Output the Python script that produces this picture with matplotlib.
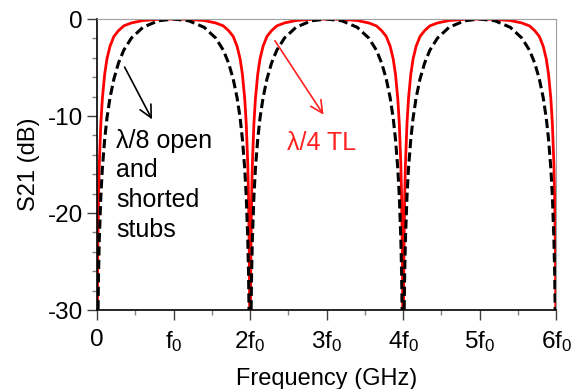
import matplotlib.pyplot as plt
from matplotlib.ticker import MultipleLocator

plt.rcParams['font.family'] = ['Liberation Sans', 'DejaVu Sans']
plt.rcParams['axes.unicode_minus'] = False

# frequency in units of f0
freq = [
    0.0, 0.005, 0.01, 0.02, 0.03, 0.05, 0.07, 0.1, 0.13, 0.17, 0.22, 0.28, 0.35, 0.45, 0.6, 0.8,
    1.0, 1.2, 1.4, 1.55, 1.65, 1.72, 1.78, 1.83, 1.87, 1.9, 1.93, 1.95, 1.97, 1.98, 1.99, 1.995,
    2.0, 2.005, 2.01, 2.02, 2.03, 2.05, 2.07, 2.1, 2.13, 2.17, 2.22, 2.28, 2.35, 2.45, 2.6, 2.8,
    3.0, 3.2, 3.4, 3.55, 3.65, 3.72, 3.78, 3.83, 3.87, 3.9, 3.93, 3.95, 3.97, 3.98, 3.99, 3.995,
    4.0, 4.005, 4.01, 4.02, 4.03, 4.05, 4.07, 4.1, 4.13, 4.17, 4.22, 4.28, 4.35, 4.45, 4.6, 4.8,
    5.0, 5.2, 5.4, 5.55, 5.65, 5.72, 5.78, 5.83, 5.87, 5.9, 5.93, 5.95, 5.97, 5.98, 5.99, 5.995,
    6.0,
]

# lambda/4 transmission line (red)
s21_qw = [
    -40, -30.4, -24.4, -18.4, -15.0, -10.8, -8.2, -5.7, -4.1, -2.8, -1.8, -1.2, -0.7, -0.4, -0.15, -0.03,
    0.0, -0.03, -0.15, -0.4, -0.7, -1.2, -1.8, -2.8, -4.1, -5.7, -8.2, -10.8, -15.0, -18.4, -24.4, -30.4,
    -40, -30.4, -24.4, -18.4, -15.0, -10.8, -8.2, -5.7, -4.1, -2.8, -1.8, -1.2, -0.7, -0.4, -0.15, -0.03,
    0.0, -0.03, -0.15, -0.4, -0.7, -1.2, -1.8, -2.8, -4.1, -5.7, -8.2, -10.8, -15.0, -18.4, -24.4, -30.4,
    -40, -30.4, -24.4, -18.4, -15.0, -10.8, -8.2, -5.7, -4.1, -2.8, -1.8, -1.2, -0.7, -0.4, -0.15, -0.03,
    0.0, -0.03, -0.15, -0.4, -0.7, -1.2, -1.8, -2.8, -4.1, -5.7, -8.2, -10.8, -15.0, -18.4, -24.4, -30.4,
    -40,
]

# lambda/8 open and shorted stubs (black dashed)
s21_stub = [
    -40, -38, -32.2, -26.2, -22.7, -18.3, -15.4, -12.4, -10.2, -8.1, -6.2, -4.55, -3.2, -1.95, -0.85, -0.18,
    0.0, -0.18, -0.85, -1.95, -3.2, -4.55, -6.2, -8.1, -10.2, -12.4, -15.4, -18.3, -22.7, -26.2, -32.2, -38,
    -40, -38, -32.2, -26.2, -22.7, -18.3, -15.4, -12.4, -10.2, -8.1, -6.2, -4.55, -3.2, -1.95, -0.85, -0.18,
    0.0, -0.18, -0.85, -1.95, -3.2, -4.55, -6.2, -8.1, -10.2, -12.4, -15.4, -18.3, -22.7, -26.2, -32.2, -38,
    -40, -38, -32.2, -26.2, -22.7, -18.3, -15.4, -12.4, -10.2, -8.1, -6.2, -4.55, -3.2, -1.95, -0.85, -0.18,
    0.0, -0.18, -0.85, -1.95, -3.2, -4.55, -6.2, -8.1, -10.2, -12.4, -15.4, -18.3, -22.7, -26.2, -32.2, -38,
    -40,
]

xtick_pos = [0, 1, 2, 3, 4, 5, 6]
xtick_labels = ['0', r'$\mathregular{f_0}$', r'$\mathregular{2f_0}$', r'$\mathregular{3f_0}$',
                r'$\mathregular{4f_0}$', r'$\mathregular{5f_0}$', r'$\mathregular{6f_0}$']
ytick_pos = [-30, -20, -10, 0]

fig = plt.figure(figsize=(5.74, 3.89), dpi=100)
ax = fig.add_axes([0.169, 0.203, 0.8, 0.748])

ax.plot(freq, s21_qw, color='#ff0000', lw=2.0)
ax.plot(freq, s21_stub, color='black', lw=2.2, dashes=(3.0, 1.4))

ax.set_xlim(0, 6)
ax.set_ylim(-30, 0)
ax.set_xticks(xtick_pos)
ax.set_xticklabels(xtick_labels)
ax.set_yticks(ytick_pos)
ax.xaxis.set_minor_locator(MultipleLocator(0.5))
ax.yaxis.set_minor_locator(MultipleLocator(2))
ax.tick_params(which='major', direction='out', length=7, width=1, color='#404040',
               labelsize=17.5, pad=3)
ax.tick_params(axis='x', which='major', pad=7)
ax.tick_params(which='minor', direction='out', length=3.5, width=1, color='#808080')

for side in ['top', 'right']:
    ax.spines[side].set_color('#a0a0a0')
for side in ['left', 'bottom']:
    ax.spines[side].set_color('black')
    ax.spines[side].set_linewidth(1.2)

ax.set_xlabel('Frequency (GHz)', fontsize=17, labelpad=10)
ax.set_ylabel('S21 (dB)', fontsize=17, labelpad=6)

ax.text(0.25, -11.3, 'λ/8 open\nand\nshorted\nstubs', fontsize=18, va='top', ha='left',
        linespacing=1.3, color='black')
ax.annotate('', xy=(0.736, -10.6), xytext=(0.344, -4.7),
            arrowprops=dict(arrowstyle='->', color='black', lw=1.2, mutation_scale=22))

ax.text(2.93, -12.8, 'λ/4 TL', fontsize=18, va='center', ha='center', color='#ff2020')
ax.annotate('', xy=(2.98, -10.1), xytext=(2.305, -2.0),
            arrowprops=dict(arrowstyle='->', color='#ff2020', lw=1.2, mutation_scale=22))

fig.savefig('out.png', dpi=100)
